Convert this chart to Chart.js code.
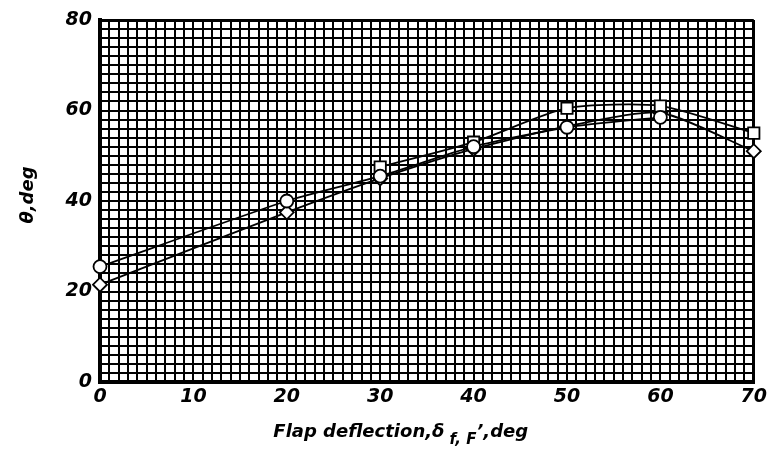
<!DOCTYPE html>
<html>
<head>
<meta charset="utf-8">
<script src="https://cdn.jsdelivr.net/npm/chart.js@4.4.0/dist/chart.umd.min.js"></script>
<style>
  html, body { margin: 0; padding: 0; background: #fff; }
  #wrap { width: 771px; height: 457px; }
</style>
</head>
<body>
<div id="wrap"><canvas id="flap-chart"></canvas></div>
<script>
// valores
const deflexao = [0, 20, 30, 40, 50, 60, 70];
const thetaCirculo = [25.5, 40, 45.5, 52, 56.3, 58.5, null];
const thetaQuadrado = [null, null, 47.5, 53, 60.5, 61, 55];
const thetaLosango = [21.5, 37.5, 45, 51.5, 56.5, 59.5, 51];
const xTicks = [0, 10, 20, 30, 40, 50, 60, 70];
const yTicks = [0, 20, 40, 60, 80];

function pontos(valores) {
    const out = [];
    for (let i = 0; i < deflexao.length; i++) {
        if (valores[i] !== null) out.push({ x: deflexao[i], y: valores[i] });
    }
    return out;
}

function serie(valores, estilo, raio) {
    return {
        data: pontos(valores),
        borderColor: '#000',
        borderWidth: 1.8,
        tension: 0.22,
        clip: false,
        pointStyle: estilo,
        pointRadius: raio,
        pointBackgroundColor: '#fff',
        pointBorderColor: '#000',
        pointBorderWidth: 1.8
    };
}

const fonteTick = { family: 'DejaVu Sans', style: 'italic', weight: 'bold', size: 19 };

// titulos dos eixos (com subscrito)
const titulos = {
    id: 'titulos',
    afterDraw(chart) {
        const ctx = chart.ctx;
        const area = chart.chartArea;
        ctx.save();
        ctx.fillStyle = '#000';
        ctx.textBaseline = 'alphabetic';
        const grande = 'italic bold 18px "DejaVu Sans"';
        const pequeno = 'italic bold 15px "DejaVu Sans"';
        const partes = [
            ['Flap deflection,\u03b4', grande, 0],
            [' f, F', pequeno, 7],
            ['\u2019,deg', grande, 0]
        ];
        let total = 0;
        partes.forEach(p => { ctx.font = p[1]; total += ctx.measureText(p[0]).width; });
        let x = area.left + (area.right - area.left) * 0.46 - total / 2;
        const base = area.bottom + 55;
        partes.forEach(p => {
            ctx.font = p[1];
            ctx.fillText(p[0], x, base + p[2]);
            x += ctx.measureText(p[0]).width;
        });

        ctx.translate(33, 195);
        ctx.rotate(-Math.PI / 2);
        ctx.font = grande;
        ctx.textAlign = 'center';
        ctx.fillText('\u03b8,deg', 0, 0);
        ctx.restore();
    }
};

const ctx = document.getElementById('flap-chart').getContext('2d');
new Chart(ctx, {
    type: 'line',
    data: {
        datasets: [
            serie(thetaCirculo, 'circle', 6.5),
            serie(thetaQuadrado, 'rect', 8),
            serie(thetaLosango, 'rectRot', 7)
        ]
    },
    options: {
        responsive: true,
        maintainAspectRatio: false,
        animation: false,
        layout: { padding: { top: 20, right: 14, left: 0, bottom: 0 } },
        plugins: { legend: { display: false }, tooltip: { enabled: false } },
        scales: {
            x: {
                type: 'linear',
                min: 0,
                max: 70,
                afterFit: s => { s.height = 75; },
                ticks: {
                    stepSize: 1,
                    autoSkip: false,
                    maxRotation: 0,
                    padding: 4,
                    color: '#000',
                    font: fonteTick,
                    callback: v => xTicks.includes(v) ? String(v) : ''
                },
                grid: {
                    color: '#000',
                    lineWidth: c => c.tick && c.tick.value === 70 ? 3 : 2,
                    drawTicks: false
                },
                border: { color: '#000', width: 4 }
            },
            y: {
                min: 0,
                max: 80,
                afterFit: s => { s.width = 100; },
                ticks: {
                    stepSize: 2,
                    autoSkip: false,
                    padding: 8,
                    color: '#000',
                    font: fonteTick,
                    callback: v => yTicks.includes(v) ? String(v) : ''
                },
                grid: {
                    color: '#000',
                    lineWidth: c => c.tick && c.tick.value === 80 ? 3 : 2,
                    drawTicks: false
                },
                border: { color: '#000', width: 4 }
            }
        }
    },
    plugins: [titulos]
});
</script>
</body>
</html>
